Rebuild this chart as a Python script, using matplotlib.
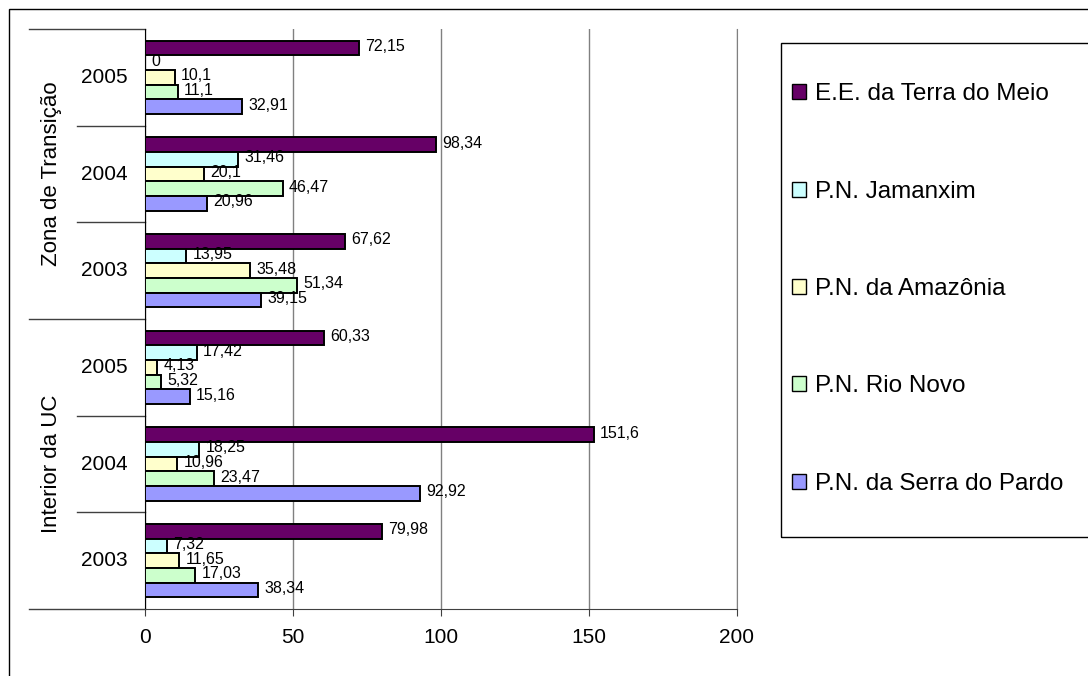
import numpy as np
import matplotlib
matplotlib.use("Agg")
import matplotlib.pyplot as plt
from matplotlib.patches import Rectangle, Patch

plt.rcParams['font.family'] = ['Liberation Sans', 'DejaVu Sans']

# categories, bottom to top on the axis
years = ["2003", "2004", "2005", "2003", "2004", "2005"]
groups = ["Interior da UC", "Zona de Transição"]

series = ["E.E. da Terra do Meio", "P.N. Jamanxim", "P.N. da Amazônia",
          "P.N. Rio Novo", "P.N. da Serra do Pardo"]
colors = ["#660066", "#CCFFFF", "#FFFFCC", "#CCFFCC", "#9999FF"]

# values per series, same order as years (Interior 2003..2005, Zona 2003..2005)
terra_meio = [79.98, 151.6, 60.33, 67.62, 98.34, 72.15]
jamanxim = [7.32, 18.25, 17.42, 13.95, 31.46, 0]
amazonia = [11.65, 10.96, 4.13, 35.48, 20.1, 10.1]
rio_novo = [17.03, 23.47, 5.32, 51.34, 46.47, 11.1]
serra_pardo = [38.34, 92.92, 15.16, 39.15, 20.96, 32.91]
values = [terra_meio, jamanxim, amazonia, rio_novo, serra_pardo]

fig = plt.figure(figsize=(10.88, 6.76), dpi=100)
ax = fig.add_axes([145 / 1088, 1 - 609 / 676, 592 / 1088, 580 / 676])

y = np.arange(len(years))
h = 0.152
for i, (vals, col) in enumerate(zip(values, colors)):
    pos = y + (2 - i) * h
    ax.barh(pos, vals, height=h, color=col, edgecolor="black", linewidth=1.4, zorder=3)
    for p, v in zip(pos, vals):
        txt = ("%g" % v).replace(".", ",")
        ax.annotate(txt, (v, p), xytext=(4.5, 1), textcoords="offset points",
                    va="center", ha="left", fontsize=11.5, zorder=4)

ax.set_xlim(0, 200)
ax.set_ylim(-0.5, len(years) - 0.5)
ax.set_xticks([0, 50, 100, 150, 200])
ax.tick_params(axis="x", labelsize=15, length=5, pad=9, color="#404040")
ax.set_yticks([])
ax.grid(axis="x", color="#808080", linewidth=1, zorder=0)
ax.spines["top"].set_visible(False)
ax.spines["right"].set_color("#808080")
ax.spines["left"].set_color("black")
ax.spines["bottom"].set_color("#404040")

# multi-level category axis
tr = ax.get_yaxis_transform()
for k in range(len(years) + 1):
    yy = k - 0.5
    x0 = -0.196 if k % 3 == 0 else -0.115
    ax.plot([x0, 0], [yy, yy], transform=tr, color="#404040", lw=1, clip_on=False)
for k, yr in enumerate(years):
    ax.text(-0.029, k, yr, transform=tr, ha="right", va="center", fontsize=15)
for g, name in enumerate(groups):
    ax.text(-0.158, g * 3 + 1, name, transform=tr, ha="center", va="center",
            rotation=90, fontsize=16)

# chart and legend borders
fig.patches.append(Rectangle((9 / 1088, -0.1), 1.2, 1 - 9 / 676 + 0.1,
                             transform=fig.transFigure, fill=False,
                             edgecolor="black", lw=1))
fig.patches.append(Rectangle((781 / 1088, 1 - 537 / 676), 1.0, (537 - 43) / 676,
                             transform=fig.transFigure, fill=False,
                             edgecolor="black", lw=1))

handles = [Patch(facecolor=c, edgecolor="black", lw=1) for c in colors]
fig.legend(handles, series, loc="center left", frameon=False,
           bbox_to_anchor=(792 / 1088, 1 - 289 / 676), fontsize=17.5,
           borderpad=0, borderaxespad=0, labelspacing=3.1, handlelength=0.58,
           handleheight=0.58, handletextpad=0.37)

fig.savefig("out.png", dpi=100)
